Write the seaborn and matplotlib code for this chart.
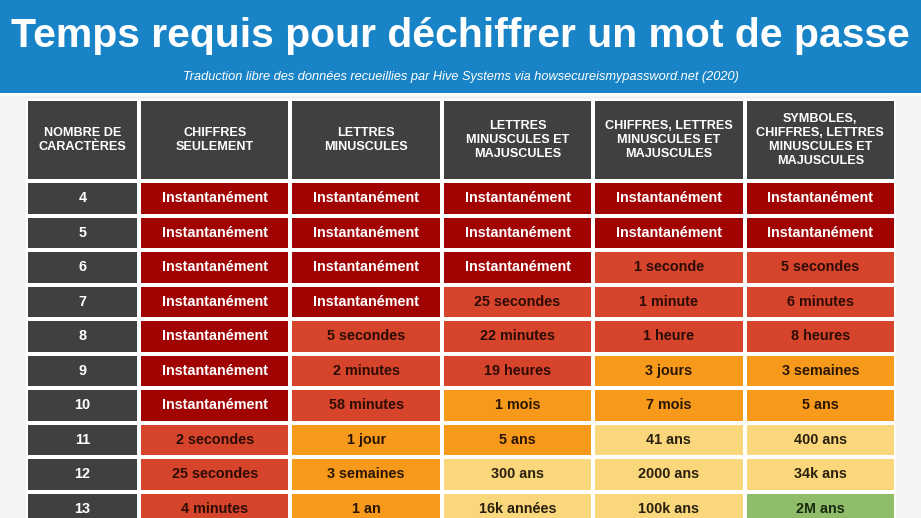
import numpy as np
import pandas as pd

import seaborn as sns
import matplotlib.pyplot as plt
from matplotlib.colors import ListedColormap
from matplotlib.patches import Rectangle


# Data
title = "Temps requis pour déchiffrer un mot de passe"
subtitle = ("Traduction libre des données recueillies par Hive Systems "
            "via howsecureismypassword.net (2020)")

header_labels = ["NOMBRE DE\nCARACTÈRES", "CHIFFRES\nSEULEMENT", "LETTRES\nMINUSCULES",
                 "LETTRES\nMINUSCULES ET\nMAJUSCULES",
                 "CHIFFRES, LETTRES\nMINUSCULES ET\nMAJUSCULES",
                 "SYMBOLES,\nCHIFFRES, LETTRES\nMINUSCULES ET\nMAJUSCULES"]

nb_chars = [4, 5, 6, 7, 8, 9, 10, 11, 12, 13]

inst = "Instantanément"
times = [
    [inst, inst, inst, inst, inst],
    [inst, inst, inst, inst, inst],
    [inst, inst, inst, "1 seconde", "5 secondes"],
    [inst, inst, "25 secondes", "1 minute", "6 minutes"],
    [inst, "5 secondes", "22 minutes", "1 heure", "8 heures"],
    [inst, "2 minutes", "19 heures", "3 jours", "3 semaines"],
    [inst, "58 minutes", "1 mois", "7 mois", "5 ans"],
    ["2 secondes", "1 jour", "5 ans", "41 ans", "400 ans"],
    ["25 secondes", "3 semaines", "300 ans", "2000 ans", "34k ans"],
    ["4 minutes", "1 an", "16k années", "100k ans", "2M ans"],
]

# severity level: 0 instant, 1 sec-hours, 2 days-years, 3 centuries+, 4 millions
levels = [
    [0, 0, 0, 0, 0],
    [0, 0, 0, 0, 0],
    [0, 0, 0, 1, 1],
    [0, 0, 1, 1, 1],
    [0, 1, 1, 1, 1],
    [0, 1, 1, 2, 2],
    [0, 1, 2, 2, 2],
    [1, 2, 2, 3, 3],
    [1, 2, 3, 3, 3],
    [1, 2, 3, 3, 4],
]

level_colors = ["#a10303", "#d6442c", "#f7991a", "#fbd77c", "#8fbd69"]
text_colors = ["white", "#2c0c05", "#2a1605", "#2a2010", "#1a2a10"]
gray = "#404040"
blue = "#1883c6"
bg = "#f3f3f3"

W, H = 921, 518

sns.set_theme(style="white")
plt.rcParams["font.family"] = ["Liberation Sans", "DejaVu Sans"]

fig = plt.figure(figsize=(W / 100, H / 100), dpi=100, facecolor=bg)


def px_axes(x0, y0, x1, y1):
    # pixel box (top-left origin) -> figure axes
    return fig.add_axes([x0 / W, 1 - y1 / H, (x1 - x0) / W, (y1 - y0) / H])


# Banner
fig.patches.append(Rectangle((0, 1 - 93 / H), 1, 93 / H, transform=fig.transFigure,
                             facecolor=blue, edgecolor="none", zorder=0))
fig.patches.append(Rectangle((0, 1 - 96 / H), 1, 3 / H, transform=fig.transFigure,
                             facecolor="white", edgecolor="none", zorder=0))
fig.text(0.5, 1 - 36 / H, title, ha="center", va="center", color="white",
         fontsize=29.4, fontweight="bold")
fig.text(0.5, 1 - 77 / H, subtitle, ha="center", va="center", color="white",
         fontsize=9.2, style="italic")

# table pixel layout
left, split, right = 26, 139, 896
top, mid, bottom = 99, 181, 526
lw = 1.6

gray_cmap = ListedColormap([gray])
level_cmap = ListedColormap(level_colors)

head_kws = dict(fontsize=9.1, fontweight="bold", color="white", linespacing=1.25)

# Header
ax_h0 = px_axes(left, top, split, mid)
ax_h1 = px_axes(split, top, right, mid)
sns.heatmap(np.zeros((1, 1)), ax=ax_h0, cmap=gray_cmap, cbar=False,
            annot=np.array([[header_labels[0]]]), fmt="", annot_kws=head_kws,
            linewidths=lw, linecolor="white", xticklabels=False, yticklabels=False)
sns.heatmap(np.zeros((1, 5)), ax=ax_h1, cmap=gray_cmap, cbar=False,
            annot=np.array([header_labels[1:]]), fmt="", annot_kws=head_kws,
            linewidths=lw, linecolor="white", xticklabels=False, yticklabels=False)

# Body
ax_b0 = px_axes(left, mid, split, bottom)
ax_b1 = px_axes(split, mid, right, bottom)
label_df = pd.DataFrame({"n": nb_chars})
sns.heatmap(np.zeros((len(nb_chars), 1)), ax=ax_b0, cmap=gray_cmap, cbar=False,
            annot=label_df[["n"]].astype(str).values, fmt="",
            annot_kws=dict(fontsize=10.4, fontweight="bold", color="white"),
            linewidths=lw, linecolor="white", xticklabels=False, yticklabels=False)

level_arr = np.array(levels)
sns.heatmap(level_arr, ax=ax_b1, cmap=level_cmap, vmin=-0.5, vmax=4.5, cbar=False,
            annot=np.array(times), fmt="",
            annot_kws=dict(fontsize=10.4, fontweight="bold"),
            linewidths=lw, linecolor="white", xticklabels=False, yticklabels=False)
for txt, lev in zip(ax_b1.texts, level_arr.flat):
    txt.set_color(text_colors[lev])

for ax in [ax_h0, ax_h1, ax_b0, ax_b1]:
    ax.set_xlabel("")
    ax.set_ylabel("")
    for s in ax.spines.values():
        s.set_visible(False)

fig.savefig("out.png", dpi=100, facecolor=bg)
